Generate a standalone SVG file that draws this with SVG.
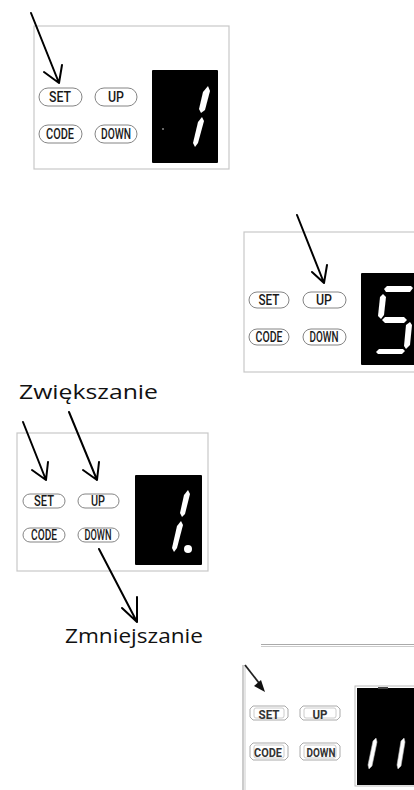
<svg xmlns="http://www.w3.org/2000/svg" width="414" height="790" viewBox="0 0 414 790">
<style>
.frame{fill:#fff;stroke:#c8c8c8;stroke-width:1.2}
.disp{fill:#000}
.seg{fill:#fff}
.btn{fill:#fff;stroke:#777;stroke-width:0.9}
.bt{font-family:Roboto,"Liberation Sans",sans-serif;font-size:14px;font-weight:500;fill:#1a1a1a;text-anchor:middle}
.bt4{font-family:Roboto,"Liberation Sans",sans-serif;font-size:13px;font-weight:bold;fill:#333;text-anchor:middle}
.arr{stroke:#000;stroke-width:2;fill:none;stroke-linecap:round;stroke-linejoin:round}
.lbl{font-family:"Open Sans","Noto Sans",sans-serif;font-size:20px;fill:#111}
.b4o{fill:#fff;stroke:#aaa;stroke-width:1}
.b4i{fill:none;stroke:#ccc;stroke-width:1}
</style>
<rect width="414" height="790" fill="#fff"/>

<g id="panel1">
<rect class="frame" x="34" y="26" width="195" height="143"/>
<rect class="disp" x="152" y="70" width="66" height="93" rx="1"/>
<polygon class="seg" points="208,86 210,91 205,110 201,113 199,109 203,92"/>
<polygon class="seg" points="202,117 204,121 198,143 195,147 193,143 198,122"/>
<rect x="162" y="128" width="2" height="2" fill="#666"/>
<g id="p1-set"><rect class="btn" x="39" y="88" width="43" height="18" rx="9"/><text class="bt" x="60" y="102" textLength="22" lengthAdjust="spacingAndGlyphs">SET</text></g>
<g id="p1-up"><rect class="btn" x="95" y="88" width="42" height="18" rx="9"/><text class="bt" x="116" y="102" textLength="16" lengthAdjust="spacingAndGlyphs">UP</text></g>
<g id="p1-code"><rect class="btn" x="39" y="125" width="43" height="18" rx="9"/><text class="bt" x="60" y="139" textLength="28" lengthAdjust="spacingAndGlyphs">CODE</text></g>
<g id="p1-down"><rect class="btn" x="95" y="125" width="42" height="18" rx="9"/><text class="bt" x="116" y="139" textLength="30" lengthAdjust="spacingAndGlyphs">DOWN</text></g>
</g>

<g id="panel2">
<rect class="frame" x="244" y="232" width="180" height="140"/>
<rect class="disp" x="361" y="273" width="60" height="92" rx="1"/>
<polygon class="seg" points="384,289 387,286 411,286 413,288 410,292 386,292"/>
<polygon class="seg" points="383,294 386,297 384,315 381,319 378,316 380,297"/>
<polygon class="seg" points="382,320 385,317 404,317 407,320 404,323 385,323"/>
<polygon class="seg" points="410,322 412,325 410,345 406,349 404,346 406,325"/>
<polygon class="seg" points="376,352 379,349 403,349 405,351 402,354 378,354"/>
<g id="p2-set"><rect class="btn" x="249" y="292" width="40" height="16" rx="8"/><text class="bt" x="269" y="305" textLength="21" lengthAdjust="spacingAndGlyphs">SET</text></g>
<g id="p2-up"><rect class="btn" x="303" y="292" width="43" height="16" rx="8"/><text class="bt" x="324" y="305" textLength="16" lengthAdjust="spacingAndGlyphs">UP</text></g>
<g id="p2-code"><rect class="btn" x="249" y="329" width="40" height="16" rx="8"/><text class="bt" x="269" y="342" textLength="27" lengthAdjust="spacingAndGlyphs">CODE</text></g>
<g id="p2-down"><rect class="btn" x="303" y="329" width="43" height="16" rx="8"/><text class="bt" x="324" y="342" textLength="29" lengthAdjust="spacingAndGlyphs">DOWN</text></g>
</g>

<g id="panel3">
<rect class="frame" x="17" y="433" width="191" height="138"/>
<rect class="disp" x="135" y="475" width="67" height="90" rx="1"/>
<polygon class="seg" points="188,490 190,494 185,514 182,517 180,513 184,495"/>
<polygon class="seg" points="181,521 183,525 177,548 174,552 172,548 177,526"/>
<circle class="seg" cx="188" cy="549" r="4"/>
<g id="p3-set"><rect class="btn" x="23" y="494" width="42" height="14" rx="7" stroke="#999"/><text class="bt" x="44" y="505.5" font-size="12.5" textLength="20" lengthAdjust="spacingAndGlyphs">SET</text></g>
<g id="p3-up"><rect class="btn" x="78" y="494" width="41" height="14" rx="7" stroke="#999"/><text class="bt" x="98" y="505.5" font-size="12.5" textLength="14" lengthAdjust="spacingAndGlyphs">UP</text></g>
<g id="p3-code"><rect class="btn" x="23" y="528" width="42" height="14" rx="7" stroke="#999"/><text class="bt" x="44" y="539.5" font-size="12.5" textLength="26" lengthAdjust="spacingAndGlyphs">CODE</text></g>
<g id="p3-down"><rect class="btn" x="78" y="528" width="41" height="14" rx="7" stroke="#999"/><text class="bt" x="98" y="539.5" font-size="12.5" textLength="27" lengthAdjust="spacingAndGlyphs">DOWN</text></g>
<text class="lbl" x="19" y="399" textLength="139" lengthAdjust="spacingAndGlyphs">Zwiększanie</text>
<text class="lbl" x="65" y="643" textLength="138" lengthAdjust="spacingAndGlyphs">Zmniejszanie</text>
</g>

<g id="panel4">
<line x1="261" y1="644.5" x2="414" y2="644.5" stroke="#aaa" stroke-width="1"/>
<line x1="261" y1="646.5" x2="414" y2="646.5" stroke="#ccc" stroke-width="1"/>
<line x1="243" y1="665" x2="243" y2="790" stroke="#999" stroke-width="1"/>
<line x1="245" y1="665" x2="245" y2="790" stroke="#ccc" stroke-width="1"/>
<rect x="355" y="686" width="62" height="100" fill="none" stroke="#bbb" stroke-width="1"/>
<rect class="disp" x="357" y="688" width="60" height="97"/>
<rect x="378" y="687" width="10" height="2" fill="#444"/>
<polygon points="376,738 377,742 372,766 369,769 368,765 373,741" fill="#fff" stroke="#bbb" stroke-width="0.6"/>
<polygon points="404,738 405,742 401,766 398,769 397,765 401,741" fill="#fff" stroke="#bbb" stroke-width="0.6"/>
<g id="p4-set"><path class="b4o" d="M253,706 H285 L288,709 V717 L285,720 H253 L250,717 V709 Z"/><rect class="b4i" x="254" y="708" width="30" height="10" rx="2"/><text class="bt4" x="269" y="718.5" textLength="21" lengthAdjust="spacingAndGlyphs">SET</text></g>
<g id="p4-up"><path class="b4o" d="M303,706 H337 L340,709 V717 L337,720 H303 L300,717 V709 Z"/><rect class="b4i" x="304" y="708" width="32" height="10" rx="2"/><text class="bt4" x="320" y="718.5" textLength="15" lengthAdjust="spacingAndGlyphs">UP</text></g>
<g id="p4-code"><path class="b4o" d="M253,743 H285 L288,746 V757 L285,760 H253 L250,757 V746 Z"/><rect class="b4i" x="254" y="745" width="30" height="13" rx="2"/><text class="bt4" x="268" y="756.5" textLength="28" lengthAdjust="spacingAndGlyphs">CODE</text></g>
<g id="p4-down"><path class="b4o" d="M303,743 H337 L340,746 V757 L337,760 H303 L300,757 V746 Z"/><rect class="b4i" x="304" y="745" width="32" height="13" rx="2"/><text class="bt4" x="321" y="756.5" textLength="29" lengthAdjust="spacingAndGlyphs">DOWN</text></g>
</g>

<g id="connectors">
<path class="arr" d="M31,13 L59,83 M44,72 L59,83 L62,65"/>
<path class="arr" d="M297,215 L324,283 M312,272 L324,283 L327,265"/>
<path class="arr" d="M23,422 L46,480 M32,470 L46,480 L48,462"/>
<path class="arr" d="M69,412 L97,480 M83,470 L97,480 L99,462"/>
<path class="arr" d="M99,549 L137,622 M122,608 L137,622 L137,597"/>
<line x1="245" y1="665" x2="259" y2="683" stroke="#222" stroke-width="1.8"/>
<polygon points="265,692 254,686 261,680" fill="#111"/>
</g>
</svg>
